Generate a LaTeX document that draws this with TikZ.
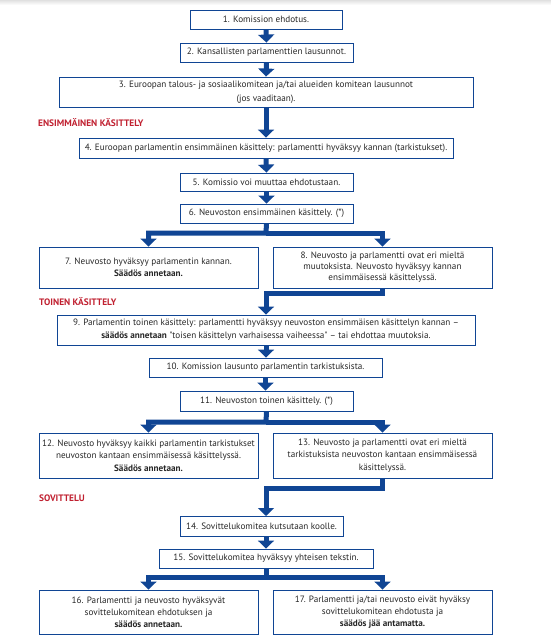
\documentclass[tikz,border=0pt]{standalone}
\usepackage{fontspec}
\setmainfont{PT Sans}[Ligatures=TeXOff]
\usetikzlibrary{arrows.meta}
\definecolor{eublue}{RGB}{16,69,148}
\definecolor{eured}{RGB}{192,32,48}
\begin{document}
\begin{tikzpicture}[x=1bp,y=-1bp,
  box/.style={draw=eublue, line width=0.9bp, inner sep=0pt, align=center,
    font=\fontsize{9.2}{12}\selectfont, text=black!85},
  conn/.style={draw=eublue, line width=5bp, line join=miter,
    -{Triangle[width=16bp,length=8bp]}},
  lbl/.style={anchor=west, text=eured, inner sep=0pt,
    font=\bfseries\fontsize{9.4}{11}\selectfont}]
\useasboundingbox (0,0) rectangle (551,640);
\shade[top color=black!12, bottom color=white] (0,0) rectangle (551,5);

\node[box, minimum width=152bp, minimum height=19bp] (b1) at (266,19.5) {1. Komission ehdotus.};
\node[box, minimum width=173bp, minimum height=19bp] (b2) at (266.5,52.5) {2. Kansallisten parlamenttien lausunnot.};
\node[box, minimum width=414bp, minimum height=30bp, font=\fontsize{9.2}{14}\selectfont] (b3) at (266,92) {3. Euroopan talous- ja sosiaalikomitean ja/tai alueiden komitean lausunnot\\(jos vaaditaan).};
\node[lbl] (l1) at (38,123) {ENSIMMÄINEN KÄSITTELY};
\node[box, minimum width=374bp, minimum height=20bp] (b4) at (266,148) {4. Euroopan parlamentin ensimmäinen käsittely: parlamentti hyväksyy kannan (tarkistukset).};
\node[box, minimum width=173bp, minimum height=18bp] (b5) at (266.5,182) {5. Komissio voi muuttaa ehdotustaan.};
\node[box, minimum width=173bp, minimum height=19bp] (b6) at (266.5,213.5) {6. Neuvoston ensimmäinen käsittely. (*)};
\node[box, minimum width=219bp, minimum height=41bp] (b7) at (148.5,267.5) {7. Neuvosto hyväksyy parlamentin kannan.\\\textbf{Säädös annetaan.}};
\node[box, minimum width=219bp, minimum height=41bp, font=\fontsize{9.2}{11}\selectfont] (b8) at (382.5,267.5) {8. Neuvosto ja parlamentti ovat eri mieltä\\muutoksista. Neuvosto hyväksyy kannan\\ensimmäisessä käsittelyssä.};
\node[lbl] (l2) at (39,302) {TOINEN KÄSITTELY};
\node[box, minimum width=418bp, minimum height=30bp, font=\fontsize{9.2}{13}\selectfont] (b9) at (266,330) {9. Parlamentin toinen käsittely: parlamentti hyväksyy neuvoston ensimmäisen käsittelyn kannan –\\\textbf{säädös annetaan} "toisen käsittelyn varhaisessa vaiheessa" – tai ehdottaa muutoksia.};
\node[box, minimum width=233bp, minimum height=19bp] (b10) at (265.5,367.5) {10. Komission lausunto parlamentin tarkistuksista.};
\node[box, minimum width=173bp, minimum height=20bp] (b11) at (266.5,401) {11. Neuvoston toinen käsittely. (*)};
\node[box, minimum width=219bp, minimum height=45bp, font=\fontsize{9.2}{12.5}\selectfont] (b12) at (148.5,455.5) {12. Neuvosto hyväksyy kaikki parlamentin tarkistukset\\neuvoston kantaan ensimmäisessä käsittelyssä.\\\textbf{Säädös annetaan.}};
\node[box, minimum width=219bp, minimum height=45bp, font=\fontsize{9.2}{12.5}\selectfont] (b13) at (382.5,455.5) {13. Neuvosto ja parlamentti ovat eri mieltä\\tarkistuksista neuvoston kantaan ensimmäisessä\\käsittelyssä.};
\node[lbl] (l3) at (39,498) {SOVITTELU};
\node[box, minimum width=163bp, minimum height=20bp] (b14) at (261.5,526) {14. Sovittelukomitea kutsutaan koolle.};
\node[box, minimum width=214bp, minimum height=19bp] (b15) at (266,558.5) {15. Sovittelukomitea hyväksyy yhteisen tekstin.};
\node[box, minimum width=219bp, minimum height=44bp] (b16) at (148.5,612) {16. Parlamentti ja neuvosto hyväksyvät\\sovittelukomitean ehdotuksen ja\\\textbf{säädös annetaan.}};
\node[box, minimum width=219bp, minimum height=44bp] (b17) at (382.5,612) {17. Parlamentti ja/tai neuvosto eivät hyväksy\\sovittelukomitean ehdotusta ja\\\textbf{säädös jää antamatta.}};

\coordinate (j6) at (266,233);
\coordinate (j8) at (382.5,293);
\coordinate (j11) at (266,422);
\coordinate (j13) at (382.5,488);
\coordinate (t14) at (266,516);
\coordinate (j15) at (266,577);

\draw[conn] (b1.south) -- (b2.north);
\draw[conn] (b2.south) -- (b3.north);
\draw[conn] (b3.south) -- (b4.north);
\draw[conn] (b4.south) -- (b5.north);
\draw[conn] (b5.south) -- (b6.north);
\draw[conn] (b6.south) -- (j6) -| (b7.north);
\draw[conn] (j6) -| (b8.north);
\draw[conn] (b8.south) -- (j8) -| (b9.north);
\draw[conn] (b9.south) -- (b9.south |- b10.north);
\draw[conn] (b10.south) -- (b10.south |- b11.north);
\draw[conn] (b11.south) -- (j11) -| (b12.north);
\draw[conn] (j11) -| (b13.north);
\draw[conn] (b13.south) -- (j13) -| (t14);
\draw[conn] (t14 |- b14.south) -- (t14 |- b15.north);
\draw[conn] (b15.south) -- (j15) -| (b16.north);
\draw[conn] (j15) -| (b17.north);
\end{tikzpicture}
\end{document}
